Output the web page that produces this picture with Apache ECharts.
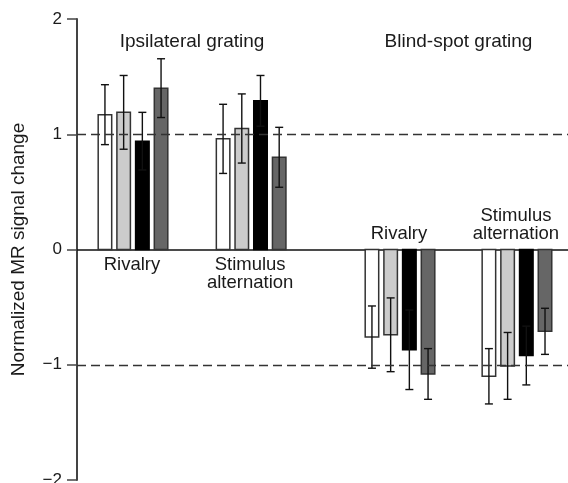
<!DOCTYPE html>
<html>
<head>
<meta charset="utf-8">
<script src="https://cdn.jsdelivr.net/npm/echarts@6/dist/echarts.min.js"></script>
<style>
html,body{margin:0;padding:0;background:#fff;}
#chart{width:568px;height:483px;}
</style>
</head>
<body>
<div id="chart"></div>
<script>
// ---- data ----
const groupLabels = ['Rivalry', 'Stimulus\nalternation', 'Rivalry', 'Stimulus\nalternation'];
const panelTitles = ['Ipsilateral grating', 'Blind-spot grating'];
const yTicks = [-2, -1, 0, 1, 2];
const condA = [1.17, 0.96, -0.76, -1.10];   // white
const condAErr = [0.26, 0.30, 0.27, 0.24];
const condB = [1.19, 1.05, -0.74, -1.01];   // light grey
const condBErr = [0.32, 0.30, 0.32, 0.29];
const condC = [0.94, 1.29, -0.87, -0.92];   // black
const condCErr = [0.25, 0.22, 0.345, 0.255];
const condD = [1.40, 0.80, -1.08, -0.71];   // dark grey
const condDErr = [0.255, 0.26, 0.22, 0.20];

// ---- layout ----
const groupPos = [1, 2, 3.26, 4.25];
const STEP = 0.1583;
const BARW = 0.1143;
const FONT = '"Liberation Sans", Arial, Helvetica, sans-serif';

const conds = [
  {v: condA, e: condAErr, fill: '#ffffff', stroke: '#333333'},
  {v: condB, e: condBErr, fill: '#cccccc', stroke: '#333333'},
  {v: condC, e: condCErr, fill: '#000000', stroke: '#000000'},
  {v: condD, e: condDErr, fill: '#666666', stroke: '#333333'}
];

function barSeries(ci) {
  const c = conds[ci];
  return {
    type: 'custom',
    clip: false,
    silent: true,
    data: groupPos.map((p, i) => [p, c.v[i], c.e[i]]),
    renderItem: function (params, api) {
      const pos = api.value(0), v = api.value(1), e = api.value(2);
      const unit = api.size([1, 0])[0];
      const base = api.coord([pos, 0]);
      const cx = base[0] + (ci - 1.5) * STEP * unit;
      const w = BARW * unit;
      const yv = api.coord([pos, v])[1];
      const yHi = api.coord([pos, v + e])[1];
      const yLo = api.coord([pos, v - e])[1];
      const y0 = base[1];
      const top = Math.min(y0, yv), h = Math.abs(yv - y0);
      const cap = 4;
      const es = {stroke: '#111', lineWidth: 1.4};
      return {
        type: 'group',
        children: [
          {type: 'rect', shape: {x: cx - w / 2, y: top, width: w, height: h},
           style: {fill: c.fill, stroke: c.stroke, lineWidth: 1.5}},
          {type: 'line', shape: {x1: cx, y1: yHi, x2: cx, y2: yLo}, style: es},
          {type: 'line', shape: {x1: cx - cap, y1: yHi, x2: cx + cap, y2: yHi}, style: es},
          {type: 'line', shape: {x1: cx - cap, y1: yLo, x2: cx + cap, y2: yLo}, style: es}
        ]
      };
    }
  };
}

const series = [0, 1, 2, 3].map(barSeries);

series[0].markLine = {
  silent: true,
  symbol: 'none',
  label: {show: false},
  lineStyle: {type: [9, 5], color: '#333', width: 1.3},
  data: [{yAxis: 1}, {yAxis: -1}]
};

// group labels
series.push({
  type: 'custom',
  clip: false,
  silent: true,
  data: groupPos.map((p, i) => [p, condA[i] >= 0 ? 1 : -1, i]),
  renderItem: function (params, api) {
    const pos = api.value(0), dir = api.value(1), idx = api.value(2);
    const b = api.coord([pos, 0]);
    return {
      type: 'text',
      style: {
        text: groupLabels[idx],
        x: b[0] - 1,
        y: dir > 0 ? b[1] + 6 : b[1] - 7,
        align: 'center',
        verticalAlign: dir > 0 ? 'top' : 'bottom',
        font: '18.5px ' + FONT,
        lineHeight: 18,
        fill: '#1a1a1a'
      }
    };
  }
});

// panel titles
series.push({
  type: 'custom',
  clip: false,
  silent: true,
  data: [[(groupPos[0] + groupPos[1]) / 2, 1.8, 0], [(groupPos[2] + groupPos[3]) / 2, 1.8, 1]],
  renderItem: function (params, api) {
    const p = api.coord([api.value(0), api.value(1)]);
    return {
      type: 'text',
      style: {
        text: panelTitles[api.value(2)],
        x: p[0], y: p[1],
        align: 'center', verticalAlign: 'middle',
        font: '19px ' + FONT,
        fill: '#1a1a1a'
      }
    };
  }
});

const chart = echarts.init(document.getElementById('chart'), null, {renderer: 'canvas'});
chart.setOption({
  animation: false,
  backgroundColor: '#fff',
  grid: {left: 77, right: 0, top: 19, bottom: 3, containLabel: false, outerBoundsMode: 'none'},
  xAxis: {
    type: 'value', min: 0.526, max: 4.682,
    axisLine: {show: true, onZero: true, lineStyle: {color: '#111', width: 1.5}},
    axisTick: {show: false}, axisLabel: {show: false}, splitLine: {show: false}
  },
  yAxis: {
    type: 'value', min: yTicks[0], max: yTicks[yTicks.length - 1], interval: 1,
    name: 'Normalized MR signal change',
    nameLocation: 'middle', nameGap: 49,
    nameTextStyle: {fontSize: 19, fontFamily: FONT, color: '#1a1a1a'},
    axisLine: {show: true, onZero: false, lineStyle: {color: '#444', width: 2}},
    axisTick: {show: true, length: 10, lineStyle: {color: '#444', width: 1.5}},
    axisLabel: {fontSize: 17, fontFamily: FONT, color: '#1a1a1a', margin: 15,
      formatter: v => String(v).replace('-', '\u2212')},
    splitLine: {show: false}
  },
  series: series
});
</script>
</body>
</html>
